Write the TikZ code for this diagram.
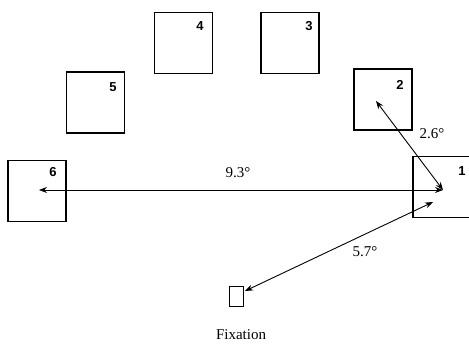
\documentclass[tikz,border=0pt]{standalone}
\usepackage{fontspec}
\setmainfont{Liberation Serif}
\newfontfamily\numfont{Liberation Sans}
\usetikzlibrary{arrows.meta,positioning}

\begin{document}
\begin{tikzpicture}[x=1pt,y=-1pt,
  every node/.style={inner sep=0pt},
  target/.style={draw,line width=1.6pt,minimum width=58pt,minimum height=61pt},
  num/.style={font=\numfont\bfseries\fontsize{13}{13}\selectfont},
  deg/.style={font=\fontsize{15}{15}\selectfont},
  conn/.style={{Stealth[length=8pt,width=6pt]}-{Stealth[length=8pt,width=6pt]},line width=0.9pt}]

\useasboundingbox (0,0) rectangle (469,345);

% Target boxes
\node[target] (b1) at (442,187) {};
\node[target] (b2) at (383,99.5) {};
\node[target] (b3) at (290,43) {};
\node[target] (b4) at (183.5,43) {};
\node[target] (b5) at (95.5,102.5) {};
\node[target] (b6) at (37,191) {};

% Box numbers
\node[num] (n1) at (462,171) {1};
\node[num] (n2) at (400,85) {2};
\node[num] (n3) at (309,26) {3};
\node[num] (n4) at (200,26) {4};
\node[num] (n5) at (113,87) {5};
\node[num] (n6) at (53,172) {6};

% Fixation
\node[draw,line width=0.6pt,minimum width=14pt,minimum height=20pt] (fix) at (236.5,296) {};
\node[font=\fontsize{15}{15}\selectfont] (fixlab) at (241,335) {Fixation};

% Arrow ends
\coordinate (p1a) at (443,190);
\coordinate (p1b) at (433,202);
\coordinate (p2) at (376,101);
\coordinate (p6) at (39,190);
\coordinate (pf) at (245,291);

% Distances
\draw[conn] (p6) -- (p1a);
\node[deg] (d93) at (238,173) {9.3°};
\draw[conn] (p2) -- (p1a);
\node[deg] (d26) at (432,134) {2.6°};
\draw[conn] (pf) -- (p1b);
\node[deg] (d57) at (365,252) {5.7°};

\end{tikzpicture}
\end{document}
